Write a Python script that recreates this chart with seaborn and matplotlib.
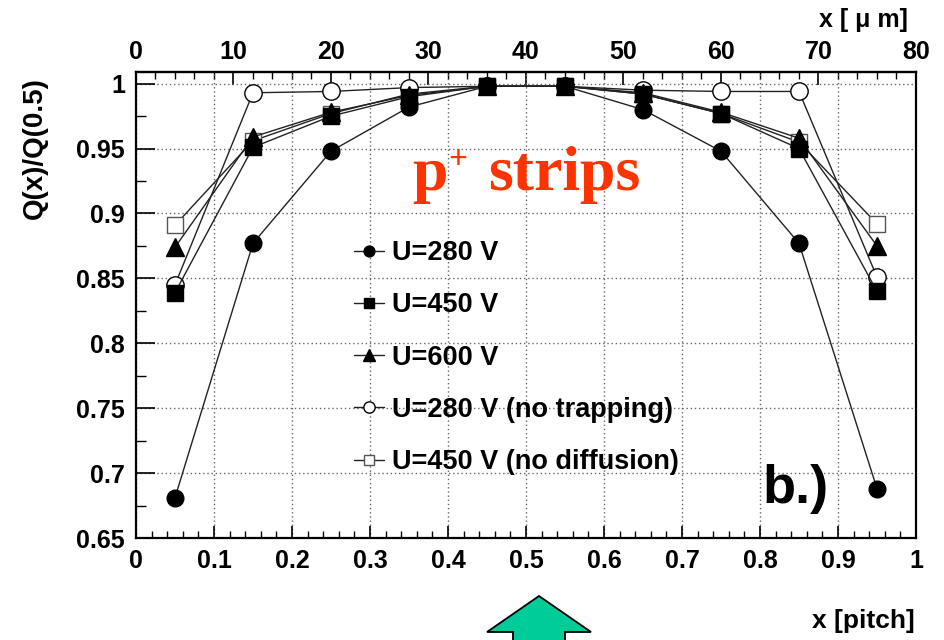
import numpy as np
import pandas as pd
import seaborn as sns
import matplotlib.pyplot as plt
from matplotlib.patches import Polygon
from matplotlib.ticker import MultipleLocator, FuncFormatter

# ---------------- data ----------------
x_pitch = [0.05, 0.15, 0.25, 0.35, 0.45, 0.55, 0.65, 0.75, 0.85, 0.95]
u280 = [0.681, 0.877, 0.948, 0.982, 0.998, 0.998, 0.980, 0.948, 0.877, 0.688]
u450 = [0.839, 0.951, 0.975, 0.990, 0.998, 0.998, 0.992, 0.977, 0.950, 0.840]
u600 = [0.874, 0.959, 0.978, 0.991, 0.998, 0.998, 0.993, 0.978, 0.958, 0.875]
u280_notrap = [0.845, 0.993, 0.994, 0.997, 0.998, 0.998, 0.995, 0.994, 0.994, 0.851]
u450_nodiff = [0.891, 0.956, 0.977, 0.992, 0.998, 0.998, 0.992, 0.977, 0.955, 0.892]
labels = ["U=280 V", "U=450 V", "U=600 V", "U=280 V (no trapping)", "U=450 V (no diffusion)"]
x_ticks = [0, 0.1, 0.2, 0.3, 0.4, 0.5, 0.6, 0.7, 0.8, 0.9, 1.0]
y_ticks = [0.65, 0.7, 0.75, 0.8, 0.85, 0.9, 0.95, 1.0]
um_ticks = [0, 10, 20, 30, 40, 50, 60, 70, 80]

sns.set_theme(style="white")
plt.rcParams['font.family'] = ['Liberation Sans', 'DejaVu Sans']
plt.rcParams['font.weight'] = 'bold'
for k in ['text.color', 'axes.labelcolor', 'xtick.color', 'ytick.color']:
    plt.rcParams[k] = 'black'

W, H = 945, 640
fig = plt.figure(figsize=(W / 100, H / 100), dpi=100)
ax = fig.add_axes([136 / W, 1 - 538 / H, 780 / W, 466 / H])

styles = [
    (u280, 'o', 'black', 'black', 12),
    (u450, 's', 'black', 'black', 11.5),
    (u600, '^', 'black', 'black', 12.5),
    (u280_notrap, 'o', 'white', 'black', 12.5),
    (u450_nodiff, 's', 'white', '#555555', 11.5),
]
# draw the reference series last-to-first so the filled markers sit on top
for (vals, m, fc, ec, ms), lab in reversed(list(zip(styles, labels))):
    df = pd.DataFrame({"x": x_pitch, "q": vals})
    sns.lineplot(data=df, x="x", y="q", ax=ax, color='#222222', lw=1.0,
                 marker=m, markersize=ms, markerfacecolor=fc,
                 markeredgecolor=ec, markeredgewidth=1.0, label=lab,
                 errorbar=None)

ax.set_xlim(0, 1)
ax.set_ylim(0.65, 1.009)
ax.set_xlabel("")
ax.set_ylabel("")
ax.set_xticks(x_ticks)
ax.set_yticks(y_ticks)
fmt = FuncFormatter(lambda v, p: f"{v:g}")
ax.xaxis.set_major_formatter(fmt)
ax.yaxis.set_major_formatter(fmt)
ax.xaxis.set_minor_locator(MultipleLocator(0.02))
ax.yaxis.set_minor_locator(MultipleLocator(0.025))
ax.tick_params(axis='x', which='major', direction='in', length=9, width=1.2,
               labelsize=18, pad=8, bottom=True, top=False, color='black')
ax.tick_params(axis='x', which='minor', direction='in', length=5, width=1.0,
               bottom=True, top=False, color='black')
ax.tick_params(axis='y', which='major', direction='in', length=14, width=1.2,
               labelsize=18, pad=8, left=True, right=False, color='black')
ax.tick_params(axis='y', which='minor', direction='in', length=7, width=1.0,
               left=True, right=False, color='black')
for s in ax.spines.values():
    s.set_color('black')
    s.set_linewidth(1.6)
ax.grid(True, which='major', linestyle=(0, (1, 2)), color='#666666', lw=1.0)
ax.set_axisbelow(True)

sec = ax.secondary_xaxis('top', functions=(lambda v: v * 80, lambda v: v / 80))
sec.set_xticks(um_ticks)
sec.xaxis.set_major_formatter(fmt)
sec.xaxis.set_minor_locator(MultipleLocator(2))
sec.tick_params(which='major', direction='in', length=9, width=1.2, labelsize=18, pad=6,
                colors='black')
sec.tick_params(which='minor', direction='in', length=5, width=1.0, colors='black')
sec.spines['top'].set_linewidth(1.6)

handles, labs = ax.get_legend_handles_labels()
hmap = dict(zip(labs, handles))
ax.legend([hmap[l] for l in labels], labels,
          loc='upper left', bbox_to_anchor=(354 / W, 1 - 240 / H),
          bbox_transform=fig.transFigure, frameon=False,
          prop={'weight': 'bold', 'size': 19.5}, handlelength=1.1,
          handletextpad=0.3, labelspacing=0.97, borderpad=0,
          borderaxespad=0, markerscale=0.65)

# texts
fig.text(35 / W, 1 - 148 / H, "Q(x)/Q(0.5)", rotation=90, ha='center', va='center',
         size=20, weight='bold')
fig.text(908 / W, 1 - 27 / H, "x [ \u03bc m]", ha='right', va='baseline', size=18, weight='bold')
fig.text(915 / W, 1 - 628 / H, "x [pitch]", ha='right', va='baseline', size=19, weight='bold')
fig.text(762 / W, 1 - 503 / H, "b.)", ha='left', va='baseline', size=39, weight='bold')

red = '#ff3300'
fig.text(412 / W, 1 - 190 / H, "p", ha='left', va='baseline', size=46, weight='bold',
         family='Liberation Serif', color=red)
fig.text(448 / W, 1 - 168 / H, "+", ha='left', va='baseline', size=24, weight='bold',
         family='Liberation Serif', color=red)
fig.text(488 / W, 1 - 190 / H, "strips", ha='left', va='baseline', size=46, weight='bold',
         family='Liberation Serif', color=red)

# arrow
pts = [(539, 596), (487, 632), (513, 632), (513, 650), (565, 650), (565, 632), (591, 632)]
poly = Polygon([(px / W, 1 - py / H) for px, py in pts], closed=True,
               facecolor='#00cc99', edgecolor='black', lw=1.3,
               transform=fig.transFigure, clip_on=False)
fig.add_artist(poly)

fig.savefig("out.png", dpi=100)
